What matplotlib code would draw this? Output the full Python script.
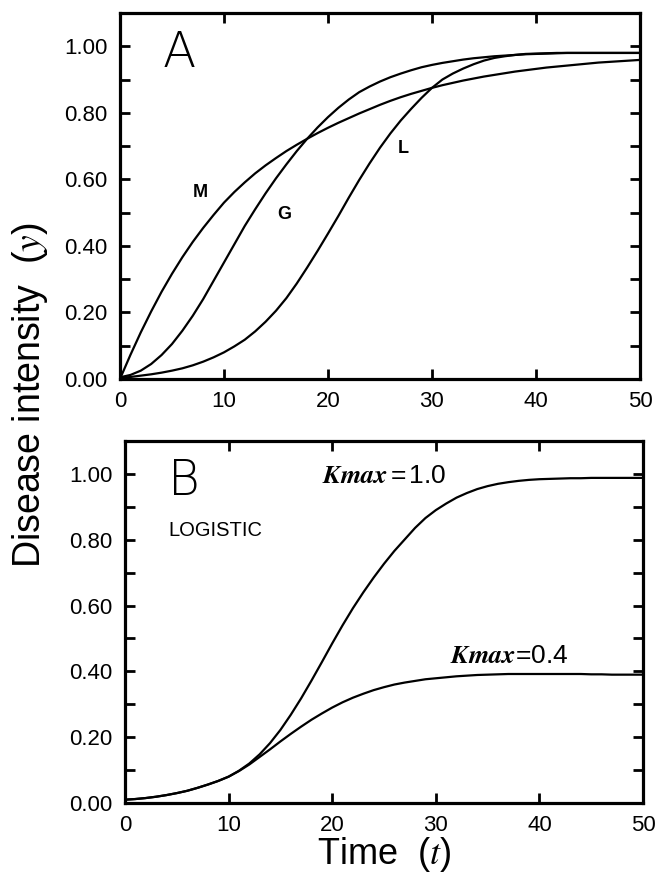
import numpy as np
import matplotlib
matplotlib.use("Agg")
import matplotlib.pyplot as plt
from matplotlib.ticker import MultipleLocator, FormatStrFormatter

plt.rcParams['font.family'] = ['Liberation Sans', 'DejaVu Sans']
plt.rcParams['mathtext.fontset'] = 'stix'

# time, 0..50 in steps of 1 (both panels)
t = np.arange(0, 51)

# panel A: monomolecular (M), Gompertz (G), logistic (L)
mono = [0.000, 0.072, 0.140, 0.203, 0.262, 0.316, 0.366, 0.412, 0.454, 0.493,
        0.530, 0.562, 0.591, 0.618, 0.642, 0.664, 0.685, 0.704, 0.722, 0.739,
        0.755, 0.770, 0.784, 0.798, 0.811, 0.824, 0.836, 0.847, 0.857, 0.866,
        0.875, 0.883, 0.890, 0.897, 0.903, 0.909, 0.914, 0.919, 0.924, 0.928,
        0.932, 0.936, 0.939, 0.942, 0.945, 0.948, 0.951, 0.953, 0.955, 0.957,
        0.959]
gomp = [0.005, 0.012, 0.025, 0.045, 0.072, 0.105, 0.145, 0.190, 0.240, 0.295,
        0.350, 0.405, 0.460, 0.510, 0.558, 0.603, 0.645, 0.685, 0.722, 0.756,
        0.787, 0.815, 0.840, 0.862, 0.879, 0.894, 0.907, 0.918, 0.928, 0.937,
        0.944, 0.950, 0.955, 0.960, 0.964, 0.967, 0.970, 0.972, 0.974, 0.976,
        0.977, 0.978, 0.979, 0.980, 0.980, 0.980, 0.980, 0.980, 0.980, 0.980,
        0.980]
logi = [0.003, 0.006, 0.010, 0.014, 0.019, 0.025, 0.032, 0.041, 0.052, 0.065,
        0.080, 0.098, 0.118, 0.143, 0.172, 0.205, 0.243, 0.287, 0.335, 0.385,
        0.437, 0.490, 0.545, 0.598, 0.648, 0.695, 0.738, 0.777, 0.812, 0.845,
        0.875, 0.900, 0.918, 0.933, 0.946, 0.957, 0.965, 0.970, 0.974, 0.977,
        0.978, 0.979, 0.980, 0.980, 0.980, 0.980, 0.980, 0.980, 0.980, 0.980,
        0.980]

# panel B: logistic with Kmax = 1.0 and Kmax = 0.4
k10 = [0.010, 0.012, 0.015, 0.019, 0.024, 0.030, 0.037, 0.046, 0.056, 0.067,
       0.080, 0.098, 0.120, 0.148, 0.182, 0.222, 0.268, 0.318, 0.372, 0.428,
       0.485, 0.540, 0.592, 0.640, 0.685, 0.727, 0.766, 0.801, 0.836, 0.866,
       0.890, 0.910, 0.928, 0.942, 0.954, 0.963, 0.970, 0.975, 0.979, 0.982,
       0.984, 0.985, 0.986, 0.987, 0.987, 0.988, 0.988, 0.988, 0.988, 0.988,
       0.988]
k04 = [0.010, 0.012, 0.015, 0.019, 0.024, 0.030, 0.037, 0.046, 0.056, 0.067,
       0.080, 0.097, 0.117, 0.140, 0.163, 0.187, 0.210, 0.232, 0.253, 0.272,
       0.290, 0.306, 0.320, 0.332, 0.343, 0.352, 0.360, 0.366, 0.371, 0.376,
       0.379, 0.382, 0.385, 0.387, 0.389, 0.390, 0.391, 0.392, 0.392, 0.392,
       0.392, 0.392, 0.392, 0.392, 0.392, 0.391, 0.391, 0.390, 0.390, 0.390,
       0.390]


def style(ax):
    ax.set_xlim(0, 50)
    ax.set_ylim(0, 1.1)
    ax.xaxis.set_major_locator(MultipleLocator(10))
    ax.yaxis.set_major_locator(MultipleLocator(0.2))
    ax.yaxis.set_minor_locator(MultipleLocator(0.1))
    ax.yaxis.set_major_formatter(FormatStrFormatter('%.2f'))
    ax.tick_params(which='both', direction='in', top=True, right=True,
                   length=7, width=2, labelsize=16, pad=9)
    for s in ax.spines.values():
        s.set_linewidth(2.3)


fig = plt.figure(figsize=(6.61, 8.73), dpi=100)

axA = fig.add_axes([0.1815, 0.5659, 0.7867, 0.4192])
axA.plot(t, mono, color='black', lw=1.6)
axA.plot(t, gomp, color='black', lw=1.6)
axA.plot(t, logi, color='black', lw=1.6)
style(axA)
axA.text(5.7, 0.98, 'A', fontsize=35, fontweight='light', family='DejaVu Sans',
         ha='center', va='center')
axA.text(7.7, 0.56, 'M', fontsize=13, fontweight='bold', ha='center', va='center')
axA.text(15.8, 0.495, 'G', fontsize=13, fontweight='bold', ha='center', va='center')
axA.text(27.2, 0.693, 'L', fontsize=13, fontweight='bold', ha='center', va='center')

axB = fig.add_axes([0.1891, 0.0802, 0.7837, 0.4146])
axB.plot(t, k10, color='black', lw=1.6)
axB.plot(t, k04, color='black', lw=1.6)
style(axB)
axB.text(5.7, 0.98, 'B', fontsize=35, fontweight='light', family='DejaVu Sans',
         ha='center', va='center')
axB.text(4.15, 0.827, 'LOGISTIC', fontsize=14.5, ha='left', va='center')
axB.text(19.0, 0.994, r'$\mathbfit{Kmax}\,$=$\,$1.0', fontsize=19, ha='left', va='center')
axB.text(31.4, 0.448, r'$\mathbfit{Kmax}$=0.4', fontsize=19, ha='left', va='center')
axB.set_xlabel(r'Time  ($t$)', fontsize=26, labelpad=-1)

fig.text(0.045, 0.5475, r'Disease intensity  ($y$)', fontsize=27, rotation=90,
         ha='center', va='center')

fig.savefig('out.png', dpi=100)
